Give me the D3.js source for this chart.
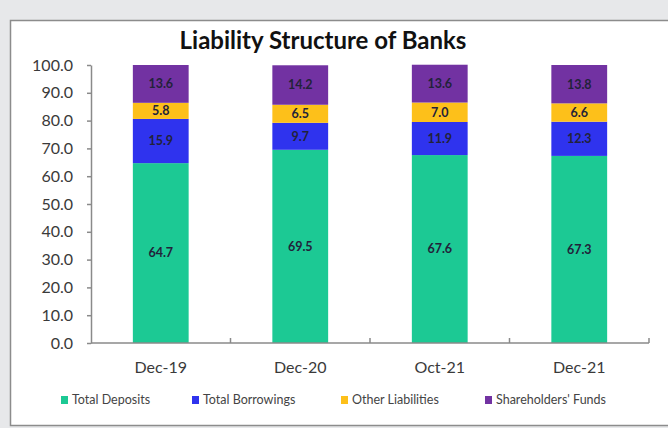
<!DOCTYPE html>
<html>
<head>
<meta charset="utf-8">
<script src="https://cdn.jsdelivr.net/npm/d3@7"></script>
<style>
  body { margin: 0; background: #e7e8ea; }
  #chart { width: 668px; height: 428px; }
  svg { display: block; font-family: Lato, "Open Sans", sans-serif; }
</style>
</head>
<body>
<div id="chart"></div>
<script>
const width = 668;
const height = 428;

const categories = ['Dec-19', 'Dec-20', 'Oct-21', 'Dec-21'];
const seriesNames = ['Total Deposits', 'Total Borrowings', 'Other Liabilities', "Shareholders' Funds"];
const totalDeposits = [64.7, 69.5, 67.6, 67.3];
const totalBorrowings = [15.9, 9.7, 11.9, 12.3];
const otherLiabilities = [5.8, 6.5, 7.0, 6.6];
const shareholdersFunds = [13.6, 14.2, 13.6, 13.8];
const yTicks = [0, 10, 20, 30, 40, 50, 60, 70, 80, 90, 100];
const colors = ['#1cc994', '#2f33ee', '#fdc01a', '#7232a2'];

function createChart(){
    const svg = d3.select('#chart')
        .append('svg')
        .attr('width', width)
        .attr('height', height);

    // white panel with grey border
    svg.append('rect')
        .attr('x', 10.5)
        .attr('y', 20.5)
        .attr('width', 670)
        .attr('height', 405)
        .style('fill', 'white')
        .style('stroke', '#8c8c8c')
        .style('stroke-width', 1.5);

    svg.append('text')
        .attr('x', 323)
        .attr('y', 49)
        .attr('text-anchor', 'middle')
        .style('font-size', '24px')
        .style('font-weight', 'bold')
        .style('fill', '#111')
        .text('Liability Structure of Banks');

    const xScale = d3.scaleBand()
        .domain(categories)
        .range([91, 649])
        .paddingInner(0.6)
        .paddingOuter(0.3);

    const yScale = d3.scaleLinear()
        .domain([0, 100])
        .range([343, 65]);

    // build rows for stacking
    const rows = categories.map((c, i) => ({
        cat: c,
        [seriesNames[0]]: totalDeposits[i],
        [seriesNames[1]]: totalBorrowings[i],
        [seriesNames[2]]: otherLiabilities[i],
        [seriesNames[3]]: shareholdersFunds[i]
    }));
    const stacked = d3.stack().keys(seriesNames)(rows);

    const layers = svg.selectAll('.layer')
        .data(stacked)
        .join('g')
        .attr('class', 'layer')
        .style('fill', (d, i) => colors[i]);

    layers.selectAll('rect')
        .data(d => d)
        .join('rect')
        .attr('x', d => xScale(d.data.cat))
        .attr('y', d => yScale(d[1]))
        .attr('width', xScale.bandwidth())
        .attr('height', d => yScale(d[0]) - yScale(d[1]));

    layers.selectAll('text')
        .data(d => d.map(v => ({ v: v, key: d.key })))
        .join('text')
        .attr('x', d => xScale(d.v.data.cat) + xScale.bandwidth() / 2)
        .attr('y', d => (yScale(d.v[0]) + yScale(d.v[1])) / 2)
        .attr('dy', '0.35em')
        .attr('text-anchor', 'middle')
        .style('font-size', '12.5px')
        .style('font-weight', 'bold')
        .style('fill', '#22223a')
        .text(d => d.v.data[d.key].toFixed(1));

    // y axis
    const yAxis = d3.axisLeft(yScale)
        .tickValues(yTicks)
        .tickFormat(d3.format('.1f'))
        .tickSize(4)
        .tickSizeOuter(0)
        .tickPadding(14);
    const gy = svg.append('g')
        .attr('transform', 'translate(91,0)')
        .call(yAxis);
    gy.select('.domain').style('stroke', '#8a8a8a').style('stroke-width', 1.5);
    gy.selectAll('.tick line').style('stroke', '#8a8a8a').style('stroke-width', 1.5);
    gy.selectAll('.tick text')
        .style('font-size', '16px')
        .style('font-family', 'Lato, sans-serif')
        .style('fill', '#3a3a3a');

    // x axis with ticks between categories
    const xEdges = d3.scaleLinear().domain([0, 4]).range([91, 649]);
    const gx = svg.append('g').attr('transform', 'translate(0,343)');
    gx.append('line')
        .attr('x1', xEdges(0))
        .attr('x2', xEdges(4))
        .style('stroke', '#8a8a8a')
        .style('stroke-width', 1.5);
    gx.selectAll('.edge')
        .data(d3.range(1, 5))
        .join('line')
        .attr('class', 'edge')
        .attr('x1', d => xEdges(d))
        .attr('x2', d => xEdges(d))
        .attr('y1', -5)
        .attr('y2', 0)
        .style('stroke', '#8a8a8a')
        .style('stroke-width', 1.5);
    gx.selectAll('.cat')
        .data(categories)
        .join('text')
        .attr('class', 'cat')
        .attr('x', d => xScale(d) + xScale.bandwidth() / 2)
        .attr('y', 30)
        .attr('text-anchor', 'middle')
        .style('font-size', '16px')
        .style('fill', '#3a3a3a')
        .text(d => d);

    // legend
    const legendX = [61, 192, 341, 485];
    const legend = svg.selectAll('.legend')
        .data(seriesNames)
        .join('g')
        .attr('class', 'legend')
        .attr('transform', (d, i) => `translate(${legendX[i]},400)`);
    legend.append('rect')
        .attr('x', 0)
        .attr('y', -4)
        .attr('width', 7)
        .attr('height', 8)
        .style('fill', (d, i) => colors[i]);
    legend.append('text')
        .attr('x', 11)
        .attr('y', 0)
        .attr('dy', '0.35em')
        .style('font-size', '12.5px')
        .style('fill', '#444')
        .text(d => d);
}

createChart();
</script>
</body>
</html>
